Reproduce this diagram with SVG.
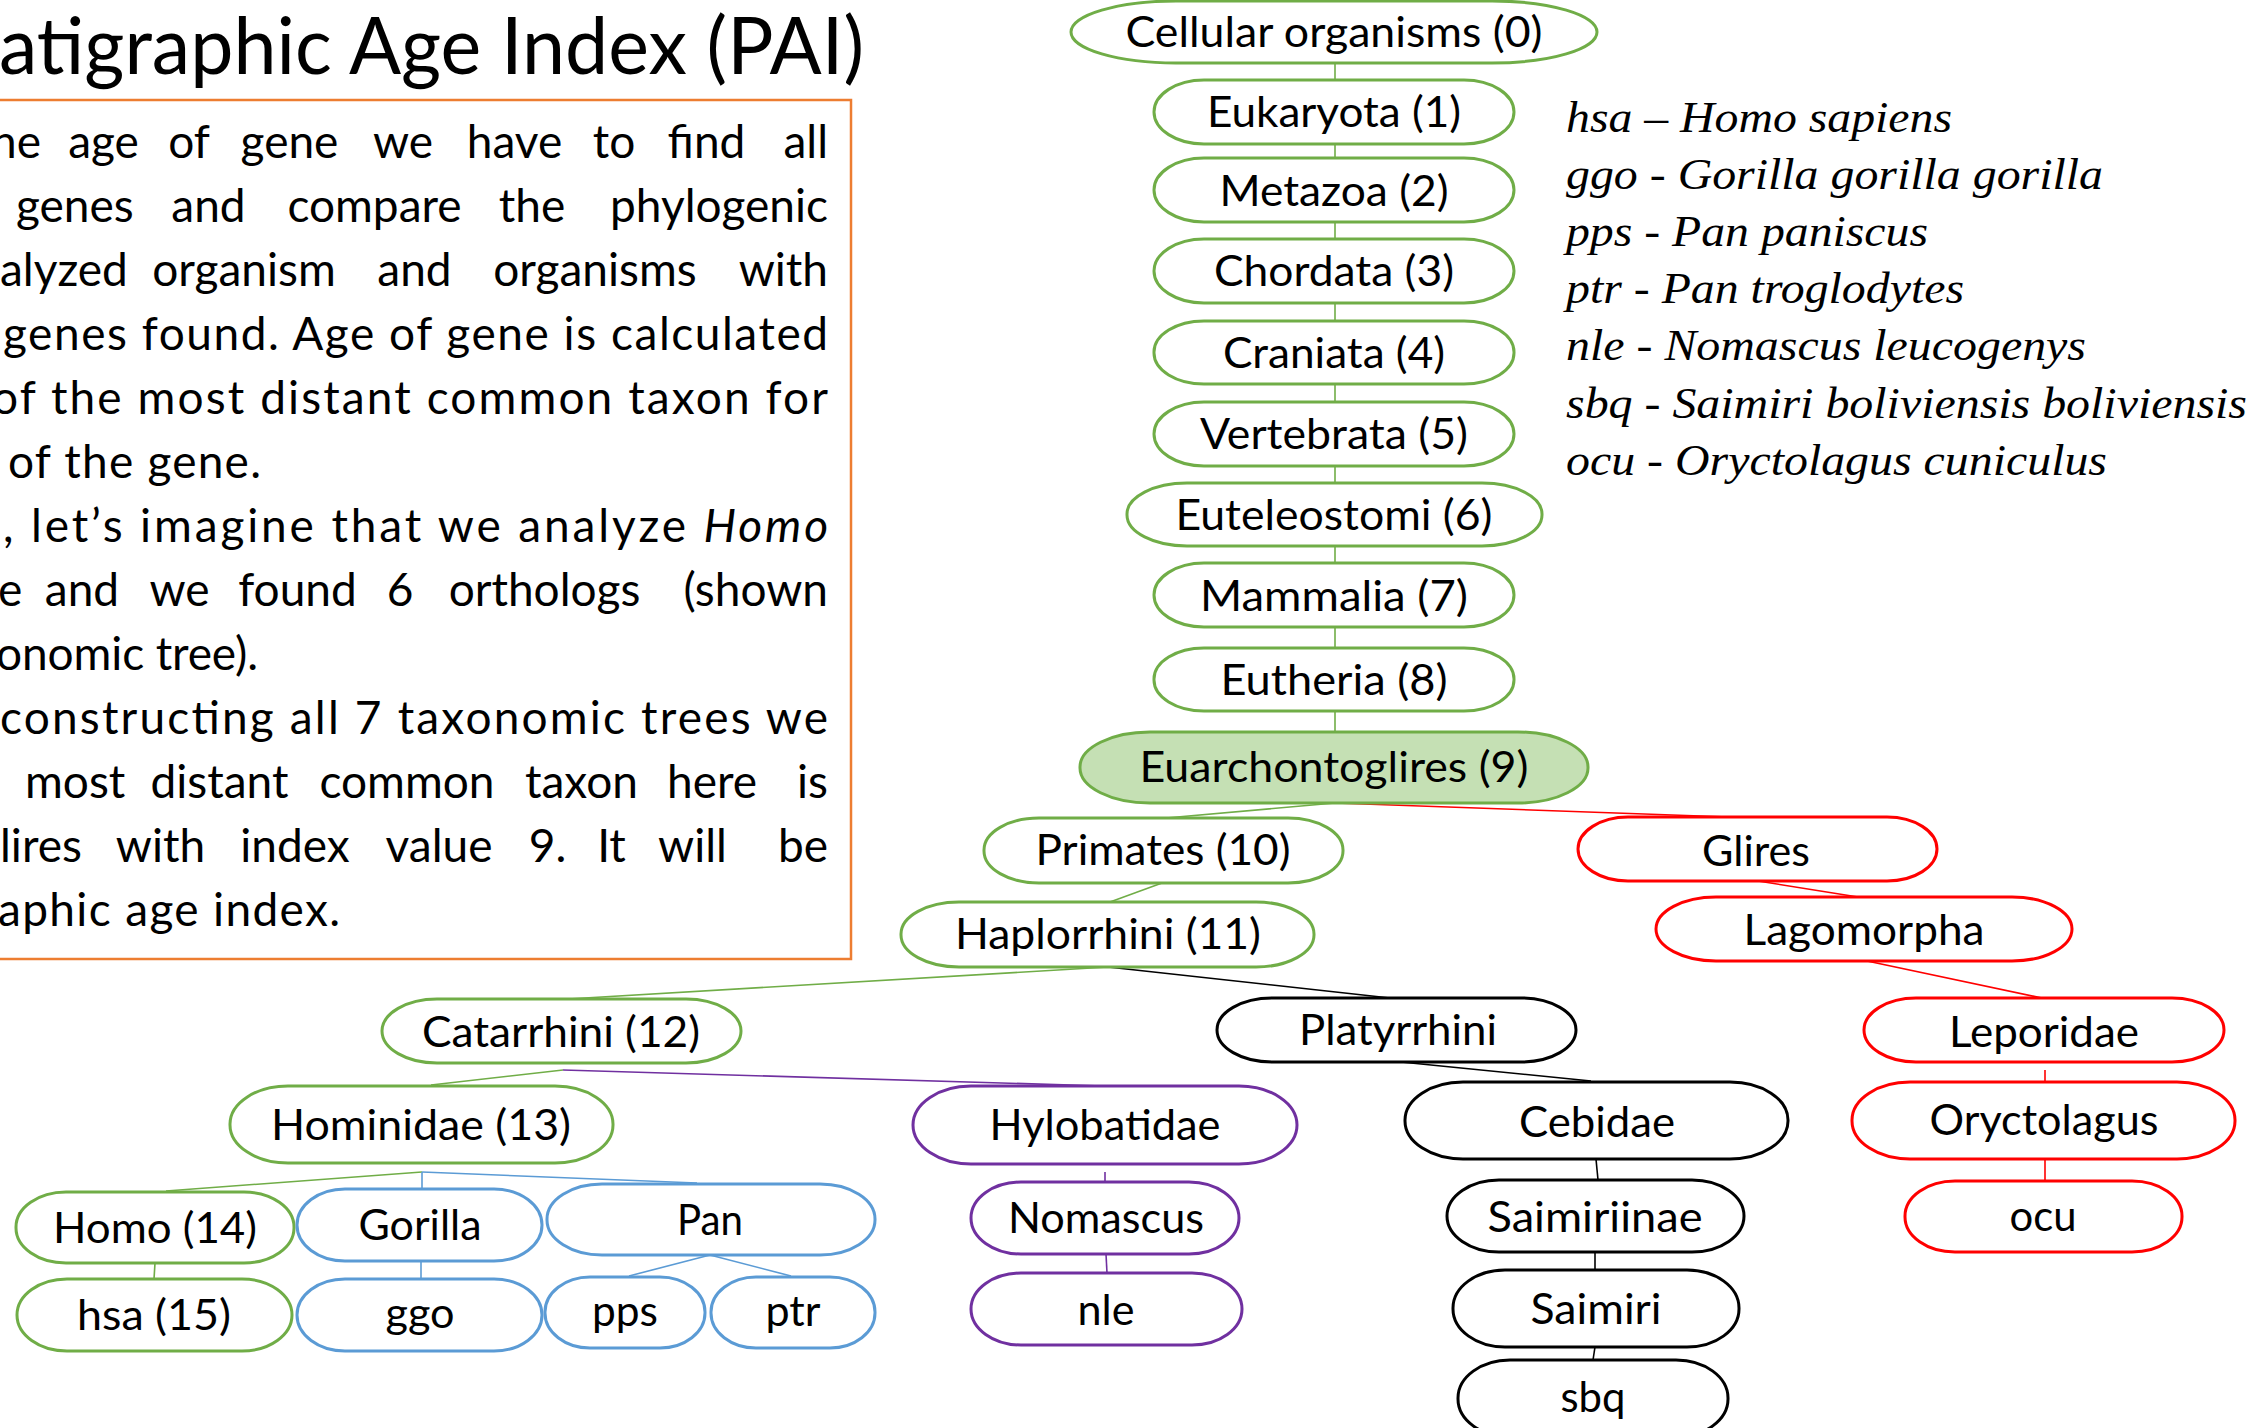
<svg xmlns="http://www.w3.org/2000/svg" width="2253" height="1428" viewBox="0 0 2253 1428">
<style>
.node rect{fill:#fff;stroke-width:3}
.g rect{stroke:#70AD47}
.b rect{stroke:#5B9BD5}
.p rect{stroke:#7030A0}
.r rect{stroke:#FF0000}
.k rect{stroke:#000}
.node text{font-family:Lato,"Open Sans","Liberation Sans",sans-serif;font-size:42px;text-anchor:middle;fill:#000}
.body{font-family:Lato,"Open Sans","Liberation Sans",sans-serif;font-size:46px;fill:#000}
.body .m{text-anchor:middle}
.body .e{text-anchor:end}
.leg{font-family:"Liberation Serif","Times New Roman",serif;font-style:italic;font-size:45px;fill:#000}
#connectors line{stroke-width:1.6;fill:none}
.cg{stroke:#70AD47}.cb{stroke:#5B9BD5}.cp{stroke:#7030A0}.cr{stroke:#FF0000}.ck{stroke:#000}
</style>
<rect width="2253" height="1428" fill="#fff"/>

<g id="title">
<text x="-1" y="74" font-family="Lato,'Open Sans','Liberation Sans',sans-serif" font-weight="400" font-size="80" textLength="865" lengthAdjust="spacingAndGlyphs">atigraphic Age Index (PAI)</text>
</g>

<g id="description">
<rect x="-5" y="100" width="856" height="859" fill="none" stroke="#ED7D31" stroke-width="2.5"/>
<text class="body" y="158"><tspan x="-9">he</tspan><tspan class="m" x="103.5">age</tspan><tspan class="m" x="189">of</tspan><tspan class="m" x="289.5">gene</tspan><tspan class="m" x="403">we</tspan><tspan class="m" x="514.5">have</tspan><tspan class="m" x="614">to</tspan><tspan class="m" x="706.5">find</tspan><tspan class="e" x="828">all</tspan></text>
<text class="body" y="222"><tspan x="16">genes</tspan><tspan class="m" x="208.5">and</tspan><tspan class="m" x="374.5">compare</tspan><tspan class="m" x="532">the</tspan><tspan class="e" x="828">phylogenic</tspan></text>
<text class="body" y="286"><tspan x="0">alyzed</tspan><tspan class="m" x="244">organism</tspan><tspan class="m" x="414.5">and</tspan><tspan class="m" x="595">organisms</tspan><tspan class="e" x="828">with</tspan></text>
<text class="body" y="350" x="3" textLength="825" lengthAdjust="spacing">genes found. Age of gene is calculated</text>
<text class="body" y="414" x="-8" textLength="836" lengthAdjust="spacing">of the most distant common taxon for</text>
<text class="body" y="478" x="8" textLength="253" lengthAdjust="spacing">of the gene.</text>
<text class="body" y="542" x="3" textLength="825" lengthAdjust="spacing">, let’s imagine that we analyze <tspan font-style="italic">Homo</tspan></text>
<text class="body" y="606"><tspan x="-2">e</tspan><tspan class="m" x="82">and</tspan><tspan class="m" x="179.5">we</tspan><tspan class="m" x="297.5">found</tspan><tspan class="m" x="400">6</tspan><tspan class="m" x="544.5">orthologs</tspan><tspan class="e" x="828">(shown</tspan></text>
<text class="body" y="670" x="-4" textLength="262" lengthAdjust="spacing">onomic tree).</text>
<text class="body" y="734" x="0" textLength="828" lengthAdjust="spacing">constructing all 7 taxonomic trees we</text>
<text class="body" y="798"><tspan x="25">most</tspan><tspan class="m" x="219.5">distant</tspan><tspan class="m" x="407">common</tspan><tspan class="m" x="581.5">taxon</tspan><tspan class="m" x="712">here</tspan><tspan class="e" x="828">is</tspan></text>
<text class="body" y="862"><tspan x="0">lires</tspan><tspan class="m" x="160.5">with</tspan><tspan class="m" x="295">index</tspan><tspan class="m" x="439">value</tspan><tspan class="m" x="547.5">9.</tspan><tspan class="m" x="611.5">It</tspan><tspan class="m" x="692.5">will</tspan><tspan class="e" x="828">be</tspan></text>
<text class="body" y="926" x="-2" textLength="342" lengthAdjust="spacing">aphic age index.</text>
</g>

<g id="legend" class="leg">
<text x="1566" y="132" textLength="386" lengthAdjust="spacingAndGlyphs">hsa – Homo sapiens</text>
<text x="1566" y="189" textLength="537" lengthAdjust="spacingAndGlyphs">ggo - Gorilla gorilla gorilla</text>
<text x="1566" y="246" textLength="362" lengthAdjust="spacingAndGlyphs">pps - Pan paniscus</text>
<text x="1566" y="303" textLength="398" lengthAdjust="spacingAndGlyphs">ptr - Pan troglodytes</text>
<text x="1566" y="360" textLength="520" lengthAdjust="spacingAndGlyphs">nle - Nomascus leucogenys</text>
<text x="1566" y="418" textLength="681" lengthAdjust="spacingAndGlyphs">sbq - Saimiri boliviensis boliviensis</text>
<text x="1566" y="475" textLength="541" lengthAdjust="spacingAndGlyphs">ocu - Oryctolagus cuniculus</text>
</g>

<g id="connectors">
<line class="cg" x1="1335" y1="63" x2="1335" y2="80"/>
<line class="cg" x1="1335" y1="144" x2="1335" y2="158"/>
<line class="cg" x1="1335" y1="222" x2="1335" y2="239"/>
<line class="cg" x1="1335" y1="303" x2="1335" y2="321"/>
<line class="cg" x1="1335" y1="384" x2="1335" y2="402"/>
<line class="cg" x1="1335" y1="466" x2="1335" y2="483"/>
<line class="cg" x1="1335" y1="546" x2="1335" y2="563"/>
<line class="cg" x1="1335" y1="627" x2="1335" y2="648"/>
<line class="cg" x1="1335" y1="711" x2="1335" y2="732"/>
<line class="cg" x1="1335" y1="803" x2="1166" y2="818"/>
<line class="cr" x1="1335" y1="803" x2="1757" y2="818"/>
<line class="cg" x1="1162" y1="883" x2="1110" y2="902"/>
<line class="cg" x1="1108" y1="967" x2="568" y2="999"/>
<line class="ck" x1="1108" y1="967" x2="1390" y2="998"/>
<line class="cr" x1="1758" y1="881" x2="1858" y2="897"/>
<line class="cr" x1="1867" y1="961" x2="2042" y2="998"/>
<line class="cr" x1="2045" y1="1070" x2="2045" y2="1082"/>
<line class="cr" x1="2045" y1="1159" x2="2045" y2="1181"/>
<line class="ck" x1="1401" y1="1062" x2="1591" y2="1081"/>
<line class="ck" x1="1596" y1="1159" x2="1598" y2="1180"/>
<line class="ck" x1="1595" y1="1252" x2="1595" y2="1270"/>
<line class="ck" x1="1595" y1="1347" x2="1593" y2="1360"/>
<line class="cg" x1="563" y1="1070" x2="431" y2="1085"/>
<line class="cp" x1="563" y1="1070" x2="1103" y2="1086"/>
<line class="cp" x1="1105" y1="1172" x2="1105" y2="1182"/>
<line class="cp" x1="1106" y1="1254" x2="1107" y2="1273"/>
<line class="cg" x1="422" y1="1172" x2="166" y2="1191"/>
<line class="cb" x1="422" y1="1172" x2="422" y2="1188"/>
<line class="cb" x1="422" y1="1172" x2="697" y2="1183"/>
<line class="cg" x1="155" y1="1263" x2="154" y2="1279"/>
<line class="cb" x1="421" y1="1261" x2="421" y2="1279"/>
<line class="cb" x1="710" y1="1255" x2="629" y2="1276"/>
<line class="cb" x1="710" y1="1255" x2="791" y2="1276"/>
</g>

<g id="n-cellular" class="node g"><rect x="1071" y="1" width="526" height="62" rx="105" ry="31"/><text x="1334" y="47" textLength="417" lengthAdjust="spacingAndGlyphs">Cellular organisms (0)</text></g>
<g id="n-eukaryota" class="node g"><rect x="1154" y="80" width="360" height="64" rx="50" ry="32"/><text x="1334" y="127" textLength="254" lengthAdjust="spacingAndGlyphs">Eukaryota (1)</text></g>
<g id="n-metazoa" class="node g"><rect x="1154" y="158" width="360" height="64" rx="50" ry="32"/><text x="1334" y="206" textLength="229" lengthAdjust="spacingAndGlyphs">Metazoa (2)</text></g>
<g id="n-chordata" class="node g"><rect x="1154" y="239" width="360" height="64" rx="50" ry="32"/><text x="1334" y="286" textLength="240" lengthAdjust="spacingAndGlyphs">Chordata (3)</text></g>
<g id="n-craniata" class="node g"><rect x="1154" y="321" width="360" height="63" rx="50" ry="31"/><text x="1334" y="368" textLength="222" lengthAdjust="spacingAndGlyphs">Craniata (4)</text></g>
<g id="n-vertebrata" class="node g"><rect x="1154" y="402" width="360" height="64" rx="50" ry="32"/><text x="1334" y="449" textLength="268" lengthAdjust="spacingAndGlyphs">Vertebrata (5)</text></g>
<g id="n-euteleostomi" class="node g"><rect x="1127" y="483" width="415" height="63" rx="60" ry="31"/><text x="1334" y="530" textLength="317" lengthAdjust="spacingAndGlyphs">Euteleostomi (6)</text></g>
<g id="n-mammalia" class="node g"><rect x="1154" y="563" width="360" height="64" rx="50" ry="32"/><text x="1334" y="611" textLength="268" lengthAdjust="spacingAndGlyphs">Mammalia (7)</text></g>
<g id="n-eutheria" class="node g"><rect x="1154" y="648" width="360" height="63" rx="50" ry="31"/><text x="1334" y="695" textLength="227" lengthAdjust="spacingAndGlyphs">Eutheria (8)</text></g>
<g id="n-euarchontoglires" class="node g"><rect x="1080" y="732" width="508" height="71" rx="70" ry="35" style="fill:#C5E0B4"/><text x="1334" y="782" textLength="389" lengthAdjust="spacingAndGlyphs">Euarchontoglires (9)</text></g>
<g id="n-primates" class="node g"><rect x="984" y="818" width="359" height="65" rx="55" ry="32"/><text x="1163" y="865" textLength="255" lengthAdjust="spacingAndGlyphs">Primates (10)</text></g>
<g id="n-haplorrhini" class="node g"><rect x="901" y="902" width="413" height="65" rx="58" ry="32"/><text x="1108" y="949" textLength="306" lengthAdjust="spacingAndGlyphs">Haplorrhini (11)</text></g>
<g id="n-glires" class="node r"><rect x="1578" y="817" width="359" height="64" rx="50" ry="32"/><text x="1756" y="866" textLength="108" lengthAdjust="spacingAndGlyphs">Glires</text></g>
<g id="n-lagomorpha" class="node r"><rect x="1656" y="897" width="416" height="64" rx="60" ry="32"/><text x="1864" y="945" textLength="241" lengthAdjust="spacingAndGlyphs">Lagomorpha</text></g>
<g id="n-leporidae" class="node r"><rect x="1864" y="998" width="360" height="64" rx="52" ry="32"/><text x="2044" y="1047" textLength="190" lengthAdjust="spacingAndGlyphs">Leporidae</text></g>
<g id="n-oryctolagus" class="node r"><rect x="1852" y="1082" width="383" height="77" rx="58" ry="38"/><text x="2044" y="1135" textLength="229" lengthAdjust="spacingAndGlyphs">Oryctolagus</text></g>
<g id="n-ocu" class="node r"><rect x="1905" y="1181" width="277" height="71" rx="50" ry="35"/><text x="2043" y="1231" textLength="67" lengthAdjust="spacingAndGlyphs">ocu</text></g>
<g id="n-catarrhini" class="node g"><rect x="382" y="999" width="359" height="64" rx="55" ry="32"/><text x="561" y="1047" textLength="278" lengthAdjust="spacingAndGlyphs">Catarrhini (12)</text></g>
<g id="n-platyrrhini" class="node k"><rect x="1217" y="998" width="359" height="64" rx="55" ry="32"/><text x="1398" y="1045" textLength="198" lengthAdjust="spacingAndGlyphs">Platyrrhini</text></g>
<g id="n-hominidae" class="node g"><rect x="230" y="1086" width="383" height="77" rx="58" ry="38"/><text x="421" y="1140" textLength="300" lengthAdjust="spacingAndGlyphs">Hominidae (13)</text></g>
<g id="n-hylobatidae" class="node p"><rect x="913" y="1086" width="384" height="78" rx="58" ry="39"/><text x="1105" y="1140" textLength="231" lengthAdjust="spacingAndGlyphs">Hylobatidae</text></g>
<g id="n-cebidae" class="node k"><rect x="1405" y="1082" width="383" height="77" rx="58" ry="38"/><text x="1597" y="1137" textLength="156" lengthAdjust="spacingAndGlyphs">Cebidae</text></g>
<g id="n-homo" class="node g"><rect x="16" y="1192" width="278" height="71" rx="50" ry="35"/><text x="155" y="1243" textLength="204" lengthAdjust="spacingAndGlyphs">Homo (14)</text></g>
<g id="n-gorilla" class="node b"><rect x="297" y="1189" width="245" height="72" rx="48" ry="36"/><text x="420" y="1240" textLength="123" lengthAdjust="spacingAndGlyphs">Gorilla</text></g>
<g id="n-pan" class="node b"><rect x="547" y="1184" width="328" height="71" rx="55" ry="35"/><text x="710" y="1235" textLength="66" lengthAdjust="spacingAndGlyphs">Pan</text></g>
<g id="n-nomascus" class="node p"><rect x="971" y="1182" width="268" height="72" rx="50" ry="36"/><text x="1106" y="1233" textLength="196" lengthAdjust="spacingAndGlyphs">Nomascus</text></g>
<g id="n-saimiriinae" class="node k"><rect x="1447" y="1180" width="297" height="72" rx="52" ry="36"/><text x="1595" y="1232" textLength="215" lengthAdjust="spacingAndGlyphs">Saimiriinae</text></g>
<g id="n-hsa" class="node g"><rect x="17" y="1279" width="275" height="72" rx="50" ry="36"/><text x="154" y="1330" textLength="154" lengthAdjust="spacingAndGlyphs">hsa (15)</text></g>
<g id="n-ggo" class="node b"><rect x="297" y="1279" width="245" height="72" rx="48" ry="36"/><text x="420" y="1328" textLength="69" lengthAdjust="spacingAndGlyphs">ggo</text></g>
<g id="n-pps" class="node b"><rect x="545" y="1277" width="160" height="71" rx="45" ry="35"/><text x="625" y="1326" textLength="66" lengthAdjust="spacingAndGlyphs">pps</text></g>
<g id="n-ptr" class="node b"><rect x="711" y="1277" width="164" height="71" rx="45" ry="35"/><text x="793" y="1326" textLength="55" lengthAdjust="spacingAndGlyphs">ptr</text></g>
<g id="n-nle" class="node p"><rect x="971" y="1273" width="271" height="72" rx="50" ry="36"/><text x="1106" y="1325" textLength="57" lengthAdjust="spacingAndGlyphs">nle</text></g>
<g id="n-saimiri" class="node k"><rect x="1453" y="1270" width="286" height="77" rx="52" ry="38"/><text x="1596" y="1324" textLength="131" lengthAdjust="spacingAndGlyphs">Saimiri</text></g>
<g id="n-sbq" class="node k"><rect x="1458" y="1360" width="270" height="77" rx="52" ry="38"/><text x="1593" y="1412" textLength="65" lengthAdjust="spacingAndGlyphs">sbq</text></g>
</svg>
